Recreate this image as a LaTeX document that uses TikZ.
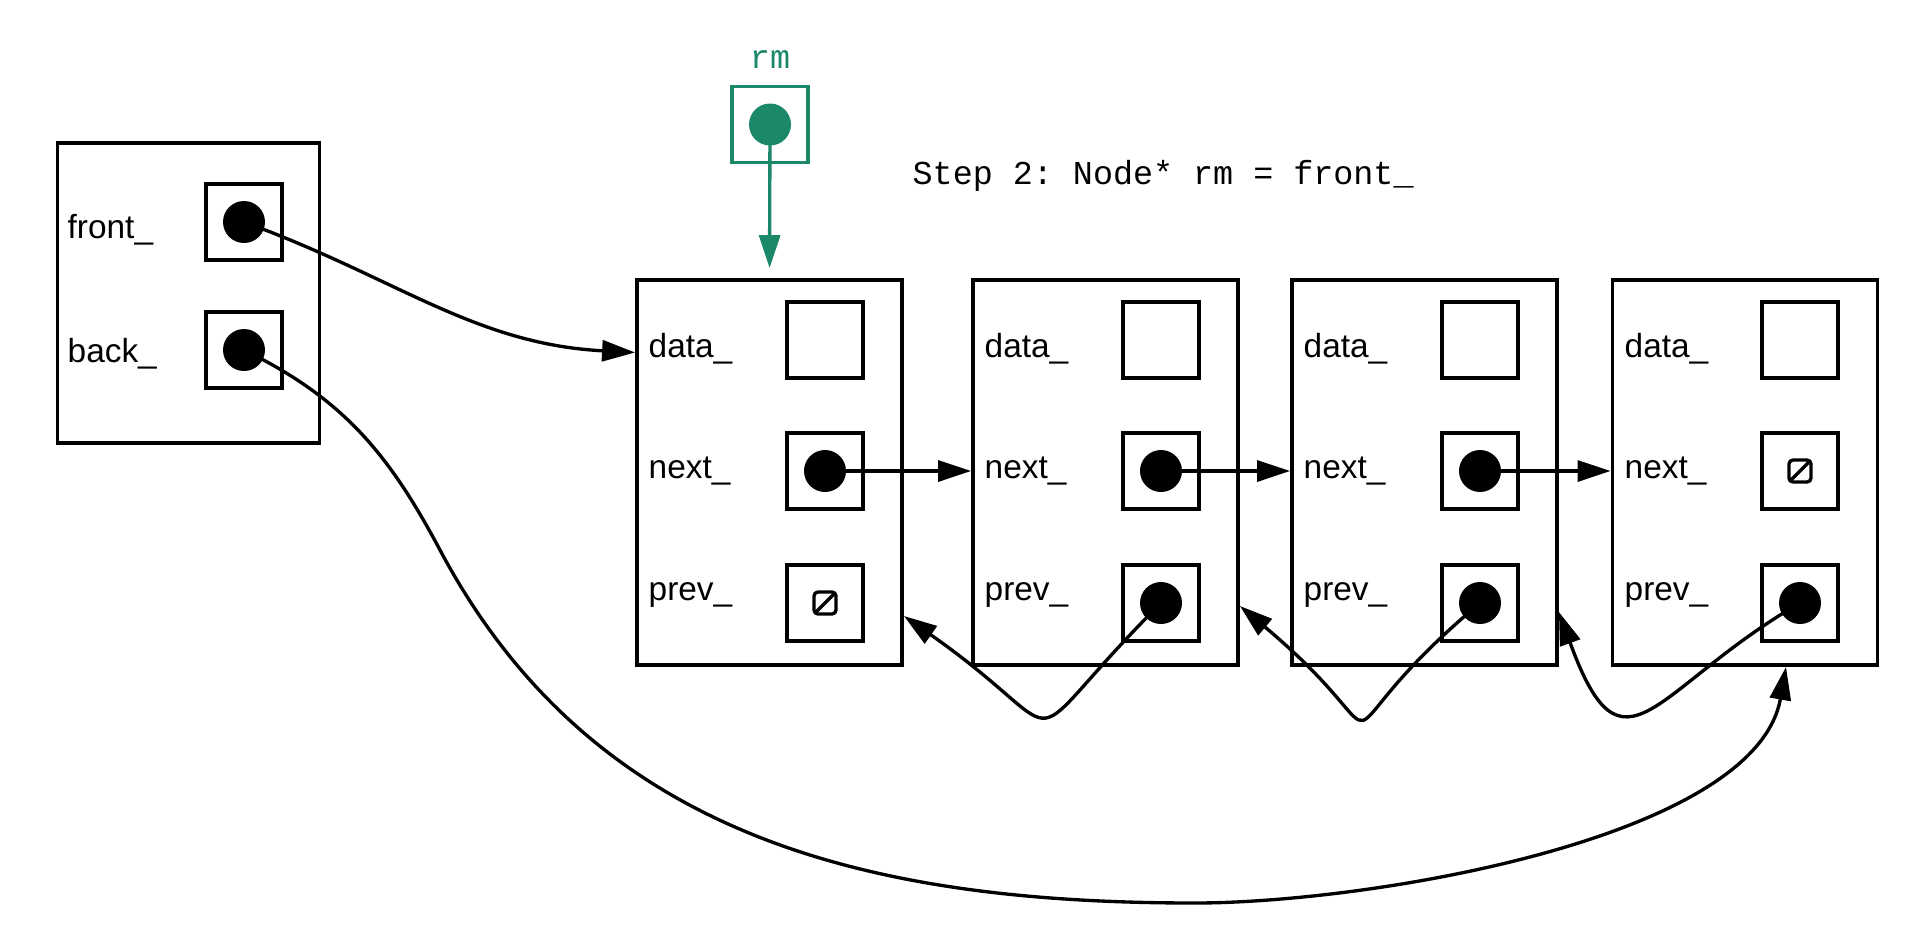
\documentclass[tikz,border=0pt]{standalone}
\usepackage{fontspec}
\setmainfont{Liberation Sans}
\setmonofont{Liberation Mono}
\usepackage{tikz}
\usetikzlibrary{arrows.meta,calc}
\definecolor{rmgreen}{RGB}{27,136,106}

\begin{document}
\begin{tikzpicture}[font=\fontsize{9.5}{11}\selectfont,
    frame/.style={draw,line width=1.1pt,minimum width=2.65cm,minimum height=3.85cm,inner sep=0pt},
    listframe/.style={draw,line width=1.1pt,minimum width=2.62cm,minimum height=3cm,inner sep=0pt},
    cell/.style={draw,line width=1.05pt,minimum size=0.76cm,inner sep=0pt},
    ptr/.style={circle,fill,inner sep=0pt,minimum size=0.42cm},
    nul/.style={draw,line width=0.95pt,rounded corners=0.04cm,minimum size=0.22cm,inner sep=0pt,
      path picture={\draw[line width=0.95pt] (path picture bounding box.south west) -- (path picture bounding box.north east);}},
    field/.style={anchor=base west,inner sep=0pt},
    link/.style={line width=0.95pt,-{Triangle[length=0.33cm,width=0.21cm]}}]
   \useasboundingbox (0,0) rectangle (19.31,9.34);

   % the list itself
   \draw (1.885,6.41) node[listframe] (list) {};
   \draw (0.67,6.96) node[field] (front) {front\_};
   \draw (0.67,5.72) node[field] (back) {back\_};
   \draw (2.44,7.12) node[cell] (frontbox) {};
   \draw (2.44,7.12) node[ptr] (frontptr) {};
   \draw (2.44,5.84) node[cell] (backbox) {};
   \draw (2.44,5.84) node[ptr] (backptr) {};

   % rm and the caption
   \draw (7.70,8.66) node[anchor=base,inner sep=0pt,text=rmgreen,font=\fontsize{9.5}{11}\selectfont\ttfamily] (rm) {rm};
   \draw (7.70,8.095) node[cell,draw=rmgreen,line width=1.1pt] (rmbox) {};
   \draw (7.70,8.095) node[ptr,fill=rmgreen] (rmptr) {};
   \draw (9.12,7.50) node[field,font=\fontsize{9.5}{11}\selectfont\ttfamily] (step) {Step 2: Node* rm = front\_};

   % first node
   \draw (7.695,4.615) node[frame] (node1) {};
   \draw (6.48,5.77) node[field] (data1) {data\_};
   \draw (6.48,4.56) node[field] (next1) {next\_};
   \draw (6.48,3.34) node[field] (prev1) {prev\_};
   \draw (8.25,5.94) node[cell] (data1box) {};
   \draw (8.25,4.63) node[cell] (next1box) {};
   \draw (8.25,3.31) node[cell] (prev1box) {};
   \draw (8.25,4.63) node[ptr] (next1ptr) {};
   \draw (8.25,3.31) node[nul] (prev1nul) {};

   % second node
   \draw (11.055,4.615) node[frame] (node2) {};
   \draw (9.84,5.77) node[field] (data2) {data\_};
   \draw (9.84,4.56) node[field] (next2) {next\_};
   \draw (9.84,3.34) node[field] (prev2) {prev\_};
   \draw (11.61,5.94) node[cell] (data2box) {};
   \draw (11.61,4.63) node[cell] (next2box) {};
   \draw (11.61,3.31) node[cell] (prev2box) {};
   \draw (11.61,4.63) node[ptr] (next2ptr) {};
   \draw (11.61,3.31) node[ptr] (prev2ptr) {};

   % third node
   \draw (14.245,4.615) node[frame] (node3) {};
   \draw (13.03,5.77) node[field] (data3) {data\_};
   \draw (13.03,4.56) node[field] (next3) {next\_};
   \draw (13.03,3.34) node[field] (prev3) {prev\_};
   \draw (14.80,5.94) node[cell] (data3box) {};
   \draw (14.80,4.63) node[cell] (next3box) {};
   \draw (14.80,3.31) node[cell] (prev3box) {};
   \draw (14.80,4.63) node[ptr] (next3ptr) {};
   \draw (14.80,3.31) node[ptr] (prev3ptr) {};

   % last node
   \draw (17.45,4.615) node[frame] (node4) {};
   \draw (16.24,5.77) node[field] (data4) {data\_};
   \draw (16.24,4.56) node[field] (next4) {next\_};
   \draw (16.24,3.34) node[field] (prev4) {prev\_};
   \draw (18.00,5.94) node[cell] (data4box) {};
   \draw (18.00,4.63) node[cell] (next4box) {};
   \draw (18.00,3.31) node[cell] (prev4box) {};
   \draw (18.00,4.63) node[nul] (next4nul) {};
   \draw (18.00,3.31) node[ptr] (prev4ptr) {};

   % pointers
   \path[link] (frontptr.center) edge[out=-20,in=177] ($(node1.west)+(0,1.2)$);
   \path[link,color=rmgreen] (rmptr.center) edge[shorten >=0.1cm] (node1.north);
   \path[link] (next1ptr.center) edge (node2.west |- next1ptr.center);
   \path[link] (next2ptr.center) edge (node3.west |- next2ptr.center);
   \path[link] (next3ptr.center) edge (node4.west |- next3ptr.center);
   \path[link] (prev2ptr.center) edge[out=-135,in=-35,looseness=2.2] ($(node1.east |- prev1box)+(0,-0.13)$);
   \path[link] (prev3ptr.center) edge[out=-140,in=-40,looseness=2.5] ($(node2.east |- prev2box)+(0,-0.03)$);
   \path[link] (prev4ptr.center) edge[out=-150,in=-70,out looseness=1.8,in looseness=2] ($(node3.east |- prev3box)+(0,-0.09)$);

   \coordinate (backturn) at (4.40,3.84);
   \coordinate (backlow) at (11.95,0.31);
   \draw[link] (backptr.center) to[out=-26,in=118] (backturn) to[out=-62,in=180] (backlow)
      to[out=0,in=-100,looseness=0.7] ($(node4.south)+(0.41,0)$);

\end{tikzpicture}
\end{document}
